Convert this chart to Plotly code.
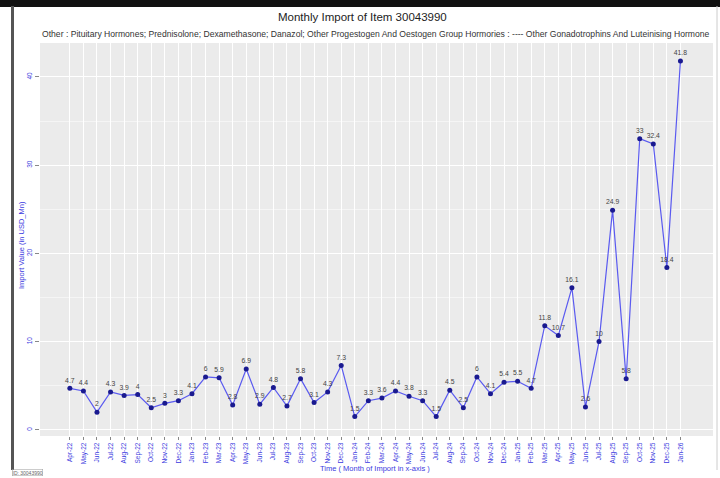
import plotly.graph_objects as go

months = ["Apr-22","May-22","Jun-22","Jul-22","Aug-22","Sep-22","Oct-22","Nov-22","Dec-22",
          "Jan-23","Feb-23","Mar-23","Apr-23","May-23","Jun-23","Jul-23","Aug-23","Sep-23","Oct-23","Nov-23","Dec-23",
          "Jan-24","Feb-24","Mar-24","Apr-24","May-24","Jun-24","Jul-24","Aug-24","Sep-24","Oct-24","Nov-24","Dec-24",
          "Jan-25","Feb-25","Mar-25","Apr-25","May-25","Jun-25","Jul-25","Aug-25","Sep-25","Oct-25","Nov-25","Dec-25",
          "Jan-26"]
values = [4.7, 4.4, 2, 4.3, 3.9, 4, 2.5, 3, 3.3,
          4.1, 6, 5.9, 2.8, 6.9, 2.9, 4.8, 2.7, 5.8, 3.1, 4.3, 7.3,
          1.5, 3.3, 3.6, 4.4, 3.8, 3.3, 1.5, 4.5, 2.5, 6, 4.1, 5.4,
          5.5, 4.7, 11.8, 10.7, 16.1, 2.6, 10, 24.9, 5.8, 33, 32.4, 18.4,
          41.8]
labels = [f"{v:g}" for v in values]

title = "Monthly Import of Item 30043990"
subtitle = ("Other : Pituitary Hormones; Prednisolone; Dexamethasone; Danazol; Other Progestogen And Oestogen Group Hormories : "
            "---- Other Gonadotrophins And Luteinising Hormone")
x_title = "Time ( Month of Import in x-axis )"
y_title = "Import Value (in USD_Mn)"

L, R, T, B = 40, 7, 43, 42
W, H = 720, 478
pw, ph = W - L - R, H - T - B

def px(x):
    return (x - L) / pw

def py(y):
    return (H - B - y) / ph

blue = "#3a3ae0"

fig = go.Figure()
fig.add_trace(go.Scatter(
    x=months, y=values, mode="lines+markers+text",
    text=labels, textposition="top center",
    textfont=dict(size=6.8, color="#444444", family="Liberation Sans"),
    line=dict(color="#5a5af0", width=1.2),
    marker=dict(color="#1a1a90", size=5),
    cliponaxis=False, showlegend=False,
))

fig.update_layout(
    width=W, height=H,
    margin=dict(l=L, r=R, t=T, b=B, autoexpand=False),
    paper_bgcolor="white",
    plot_bgcolor="#ebebeb",
    font=dict(family="Liberation Sans", color="#333333"),
    xaxis=dict(type="category", categoryorder="array", categoryarray=months,
               range=[-2.2, 47.4], tickangle=-90, automargin=False,
               tickfont=dict(size=6.5, color=blue),
               showgrid=True, gridcolor="white", gridwidth=1,
               ticks="outside", ticklen=3, tickcolor="#888888",
               zeroline=False, showline=False),
    yaxis=dict(range=[-0.7, 43.85], dtick=10, tick0=0, tickangle=-90, automargin=False,
               tickfont=dict(size=6.5, color=blue),
               showgrid=True, gridcolor="white", gridwidth=1,
               minor=dict(dtick=5, showgrid=True, gridcolor="#f5f5f5", gridwidth=0.6),
               ticks="outside", ticklen=4, tickcolor="#888888",
               zeroline=False, showline=False),
)

fig.add_annotation(text=title, xref="paper", yref="paper", x=px(362), y=py(17),
                   xanchor="center", yanchor="middle", showarrow=False,
                   font=dict(size=11.5, color="#222222"))
fig.add_annotation(text=subtitle, xref="paper", yref="paper", x=px(40), y=py(34),
                   xanchor="left", yanchor="middle", showarrow=False,
                   font=dict(size=8.6, color="#333333"))
fig.add_annotation(text=x_title, xref="paper", yref="paper", x=px(375), y=py(468),
                   xanchor="center", yanchor="middle", showarrow=False,
                   font=dict(size=7.5, color=blue))
fig.add_annotation(text=y_title, xref="paper", yref="paper", x=px(21), y=py(245),
                   xanchor="center", yanchor="middle", showarrow=False, textangle=-90,
                   font=dict(size=7.5, color=blue))

# outer frame
fig.add_shape(type="rect", xref="paper", yref="paper", x0=px(0), x1=px(720), y0=py(7), y1=py(0),
              fillcolor="#111111", line=dict(width=0), layer="above")
fig.add_shape(type="line", xref="paper", yref="paper", x0=px(12.5), x1=px(12.5), y0=py(470), y1=py(6),
              line=dict(color="#555555", width=3), layer="above")
fig.add_shape(type="line", xref="paper", yref="paper", x0=px(717), x1=px(717), y0=py(470), y1=py(6),
              line=dict(color="#cccccc", width=1), layer="above")
fig.add_annotation(text="ID: 30043990", xref="paper", yref="paper", x=px(12), y=py(472),
                   xanchor="left", yanchor="middle", showarrow=False,
                   font=dict(size=5, color="#666666"), bordercolor="#999999", borderwidth=0.5, borderpad=0)

fig.write_html("out.html", config={"displayModeBar": False},
               post_script="document.body.style.margin='0';document.body.style.overflow='hidden';")
